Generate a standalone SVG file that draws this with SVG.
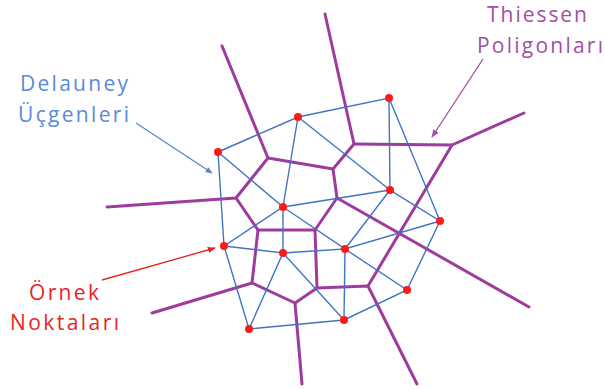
<svg xmlns="http://www.w3.org/2000/svg" width="605" height="389" viewBox="0 0 605 389">
<style>
.vor{stroke:#9e3c9e;stroke-width:3;fill:none;stroke-linecap:round;stroke-linejoin:round}
.del{stroke:#3f74c4;stroke-width:1.4;fill:none}
.pt{fill:#ff1a1a}
.lbl{font-family:"Open Sans","Liberation Sans",sans-serif;font-size:21px}
</style>
<defs>
<marker id="ab" viewBox="0 0 10 10" refX="9" refY="5" markerWidth="7" markerHeight="7" orient="auto" markerUnits="userSpaceOnUse"><path d="M0,1 L10,5 L0,9 z" fill="#5b84c8"/></marker>
<marker id="ap" viewBox="0 0 10 10" refX="9" refY="5" markerWidth="8" markerHeight="8" orient="auto" markerUnits="userSpaceOnUse"><path d="M0,1 L10,5 L0,9 z" fill="#9e4fa0"/></marker>
<marker id="ar" viewBox="0 0 10 10" refX="9" refY="5" markerWidth="8" markerHeight="8" orient="auto" markerUnits="userSpaceOnUse"><path d="M0,1 L10,5 L0,9 z" fill="#e8231f"/></marker>
</defs>
<rect width="605" height="389" fill="#ffffff"/>
<g id="connectors">
<g id="thiessen">
<path class="vor" d="M222,46 L268,158 L333,169 L354,144 L325,14"/>
<path class="vor" d="M354,144 L452,145 L524,113"/>
<path class="vor" d="M107,207 L236,198 L268,158"/>
<path class="vor" d="M333,169 L337,198 L315,230 L258,230 L236,198"/>
<path class="vor" d="M337,198 L529,307"/>
<path class="vor" d="M258,230 L252,283 L295,303 L317,288 L315,230"/>
<path class="vor" d="M152,313 L252,283"/>
<path class="vor" d="M295,303 L302,384"/>
<path class="vor" d="M317,288 L368,286 L417,384"/>
<path class="vor" d="M368,286 L452,145"/>
</g>
<g id="delaunay">
<path class="del" d="M218,152 L298,117 L389,98 L390,190 L440,221 L389,98"/>
<path class="del" d="M218,152 L224,246 L249,329 L344,320 L407,290 L440,221"/>
<path class="del" d="M218,152 L283,207 L298,117 L390,190 L283,207"/>
<path class="del" d="M390,190 L345,249 L440,221"/>
<path class="del" d="M224,246 L283,207 L283,253 L224,246"/>
<path class="del" d="M283,207 L345,249 L283,253 L249,329"/>
<path class="del" d="M283,253 L344,320 L345,249 L407,290"/>
</g>
<g id="label-arrows">
<line x1="136" y1="123" x2="212" y2="173" stroke="#5b84c8" stroke-width="1.3" marker-end="url(#ab)"/>
<line x1="483" y1="59" x2="432" y2="137" stroke="#9e4fa0" stroke-width="1.3" marker-end="url(#ap)"/>
<line x1="102" y1="280" x2="215" y2="248" stroke="#e8231f" stroke-width="1.3" marker-end="url(#ar)"/>
</g>
</g>
<g id="points">
<circle id="p1" class="pt" cx="389" cy="98" r="4"/>
<circle id="p2" class="pt" cx="298" cy="117" r="4"/>
<circle id="p3" class="pt" cx="218" cy="152" r="4"/>
<circle id="p4" class="pt" cx="390" cy="190" r="4"/>
<circle id="p5" class="pt" cx="283" cy="207" r="4"/>
<circle id="p6" class="pt" cx="440" cy="221" r="4"/>
<circle id="p7" class="pt" cx="224" cy="246" r="4"/>
<circle id="p8" class="pt" cx="283" cy="253" r="4"/>
<circle id="p9" class="pt" cx="345" cy="249" r="4"/>
<circle id="p10" class="pt" cx="407" cy="290" r="4"/>
<circle id="p11" class="pt" cx="344" cy="320" r="4"/>
<circle id="p12" class="pt" cx="249" cy="329" r="4"/>
</g>
<g id="label-delauney" class="lbl" fill="#5a8ad6">
<text x="20" y="91" textLength="108" lengthAdjust="spacing">Delauney</text>
<text x="18" y="122" textLength="111" lengthAdjust="spacing">Üçgenleri</text>
</g>
<g id="label-thiessen" class="lbl" fill="#a24fa2">
<text x="487" y="22" textLength="100" lengthAdjust="spacing">Thiessen</text>
<text x="477" y="53" textLength="126" lengthAdjust="spacing">Poligonları</text>
</g>
<g id="label-ornek" class="lbl" fill="#e8231f">
<text x="29" y="300" textLength="70" lengthAdjust="spacing">Örnek</text>
<text x="10" y="330" textLength="109" lengthAdjust="spacing">Noktaları</text>
</g>
</svg>
